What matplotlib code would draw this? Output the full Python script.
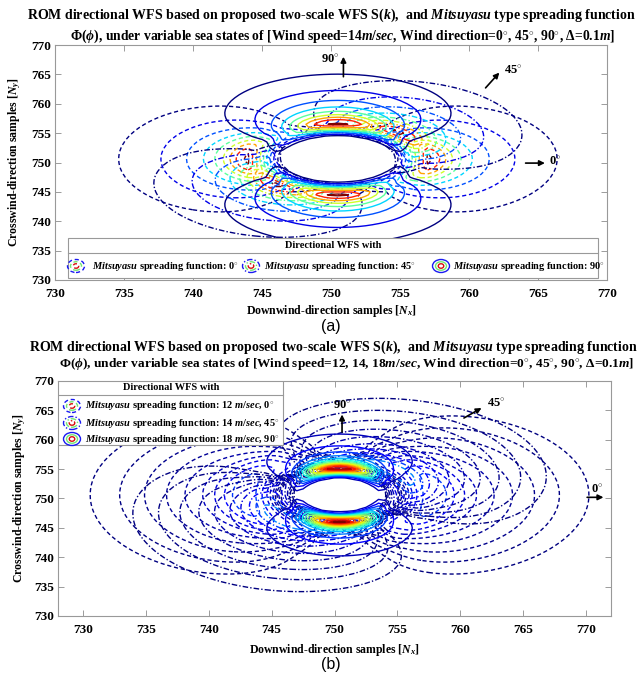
import math
import numpy as np
import matplotlib
matplotlib.use("Agg")
import matplotlib.pyplot as plt
from matplotlib.colors import Normalize
from matplotlib.patches import Rectangle, Ellipse

# ---------------- data ----------------
grid_min, grid_max, grid_step = 726.0, 774.0, 0.5
center_a = (750.5, 750.6)
center_b = (750.4, 750.6)
sigma_peak = 0.08

# panel (a): one wind speed, three directions
dirs_a = [0, 45, 90]                 # wind direction, degrees
speed_a = [14, 14, 14]               # m/sec
peak_radius_a = [6.6, 6.2, 6.0]      # spectral peak radius in samples
smax_a = [2.0, 2.0, 2.0]             # Mitsuyasu s_max
amp_a = [1.0, 1.0, 1.0]
gamma_a = 1.3                        # peak enhancement of the two-scale WFS
levels_a = [0.08, 0.16, 0.26, 0.37, 0.48, 0.60, 0.72, 0.84, 0.95]

# panel (b): three wind speeds / directions
dirs_b = [0, 45, 90]
speed_b = [12, 14, 18]
peak_radius_b = [7.5, 6.0, 4.5]
smax_b = [1.2, 1.2, 2.0]
amp_b = [0.25, 0.35, 1.0]
gamma_b = 2.0
levels_b_12 = [0.010, 0.015, 0.022, 0.032, 0.045, 0.065, 0.090, 0.13, 0.18]
levels_b_14 = [0.010, 0.015, 0.022, 0.032, 0.045, 0.065, 0.090, 0.13, 0.18, 0.25]
levels_b_18 = [0.06, 0.12, 0.18, 0.24, 0.30, 0.36, 0.42, 0.48, 0.54,
               0.60, 0.66, 0.72, 0.78, 0.84, 0.90, 0.95]
color_range_b = (0.01, 0.95)

styles = ['--', '-.', '-']
legend_a = ['0', '45', '90']
legend_b = ['12 $m/sec$, 0', '14 $m/sec$, 45', '18 $m/sec$, 90']

# ---------------- fonts ----------------
plt.rcParams['font.family'] = ['Liberation Serif', 'DejaVu Serif']
plt.rcParams['font.weight'] = 'bold'
plt.rcParams['mathtext.fontset'] = 'custom'
plt.rcParams['mathtext.rm'] = 'Liberation Serif:bold'
plt.rcParams['mathtext.it'] = 'Liberation Serif:italic:bold'
plt.rcParams['mathtext.bf'] = 'Liberation Serif:bold'
plt.rcParams['lines.dashed_pattern'] = [3.0, 2.0]
plt.rcParams['lines.dashdot_pattern'] = [4.0, 1.5, 1.0, 1.5]

lgam = np.frompyfunc(math.lgamma, 1, 1)


def norm_s(s):
    return np.exp((lgam(s + 1.0) - lgam(s + 0.5)).astype(float)) / (2 * np.sqrt(np.pi))


xs = np.arange(grid_min, grid_max + grid_step / 2, grid_step)
X, Y = np.meshgrid(xs, xs)


def wfs(center, theta_deg, rp, smax, amp, gamma):
    dx = X - center[0]
    dy = Y - center[1]
    r = np.hypot(dx, dy)
    r = np.where(r < 1e-6, 1e-6, r)
    phi = np.arctan2(dy, dx)
    q = r / rp
    base = q ** -3 * np.exp(0.75 * (1 - q ** -4))
    G = np.exp(-(np.sqrt(q) - 1) ** 2 / (2 * sigma_peak ** 2))
    S = base * np.where(q < 1, 1.0, gamma ** G / gamma)
    s = np.where(q < 1, smax * q ** 5, smax / q)
    D = norm_s(s) * np.abs(np.cos(phi - np.radians(theta_deg))) ** (2 * s)
    return amp * S * D / norm_s(np.array([smax]))[0]


fig = plt.figure(figsize=(6.38, 6.73), dpi=100)
W, H = 638.0, 673.0
axA = fig.add_axes([55 / W, 1 - 280 / H, 552 / W, 235 / H])
axB = fig.add_axes([58 / W, 1 - 616 / H, 553 / W, 235 / H])


def style_axes(ax, xlim):
    ax.set_xlim(*xlim)
    ax.set_ylim(730, 770)
    ax.set_xticks([730, 735, 740, 745, 750, 755, 760, 765, 770])
    ax.set_yticks([730, 735, 740, 745, 750, 755, 760, 765, 770])
    ax.tick_params(direction='in', length=4, width=0.6, color='0.55',
                   top=True, right=True, labelsize=9.5)
    ax.tick_params(axis='x', pad=6)
    ax.tick_params(axis='y', pad=3)
    for sp in ax.spines.values():
        sp.set_color('0.6')
        sp.set_linewidth(0.8)


nrmA = Normalize(levels_a[0], levels_a[-1])
for d, rp, sm, am, ls in zip(dirs_a, peak_radius_a, smax_a, amp_a, styles):
    axA.contour(X, Y, wfs(center_a, d, rp, sm, am, gamma_a), levels=levels_a,
                cmap='jet', norm=nrmA, linestyles=ls, linewidths=1.0)

nrmB = Normalize(*color_range_b)
for d, rp, sm, am, ls, lv in zip(dirs_b, peak_radius_b, smax_b, amp_b, styles,
                                 [levels_b_12, levels_b_14, levels_b_18]):
    axB.contour(X, Y, wfs(center_b, d, rp, sm, am, gamma_b), levels=lv,
                cmap='jet', norm=nrmB, linestyles=ls, linewidths=1.0)

style_axes(axA, (730, 770))
style_axes(axB, (728, 772))

arrow_kw = dict(arrowstyle='-|>', color='k', lw=1.2, mutation_scale=8,
                shrinkA=0, shrinkB=0)
deg = r'$^{\circ}$'
# panel (a) direction arrows
axA.annotate('', xy=(750.9, 768.0), xytext=(750.9, 764.6), arrowprops=arrow_kw)
axA.text(750.6, 767.6, '90' + deg, ha='right', va='center', fontsize=9)
axA.annotate('', xy=(762.2, 765.3), xytext=(761.2, 762.7), arrowprops=arrow_kw)
axA.text(762.5, 765.8, '45' + deg, ha='left', va='center', fontsize=9)
axA.annotate('', xy=(765.5, 749.9), xytext=(764.1, 749.9), arrowprops=arrow_kw)
axA.text(765.8, 750.2, '0' + deg, ha='left', va='center', fontsize=9)
# panel (b) direction arrows
axB.annotate('', xy=(750.6, 764.3), xytext=(750.6, 761.3), arrowprops=arrow_kw)
axB.text(750.6, 765.9, '90' + deg, ha='center', va='center', fontsize=9)
axB.annotate('', xy=(761.7, 765.4), xytext=(760.3, 763.7), arrowprops=arrow_kw)
axB.text(762.1, 766.2, '45' + deg, ha='left', va='center', fontsize=9)
axB.annotate('', xy=(771.4, 750.2), xytext=(770.1, 750.2), arrowprops=arrow_kw)
axB.text(770.9, 751.7, '0' + deg, ha='center', va='center', fontsize=9)


def px2ax(ax_box, x, y):
    l, b, w, h = ax_box
    return (x - l) / w, (b - y) / h


def icon(ax, box, cx, cy, ls):
    l, b, w, h = box
    for (ew, eh, col) in [(17, 13, (0.1, 0.1, 0.95)), (11, 8.5, (0.45, 0.9, 0.45)),
                          (5.5, 4.5, (0.85, 0.05, 0.05))]:
        ax.add_patch(Ellipse(px2ax(box, cx, cy), ew / w, eh / h, fill=False,
                             ec=col, lw=1.0, ls=ls, transform=ax.transAxes,
                             zorder=11, clip_on=False))


# legend (a)
boxA = (55, 280, 552, 235)
x0, y0 = px2ax(boxA, 68, 278)
x1, y1 = px2ax(boxA, 598, 238)
axA.add_patch(Rectangle((x0, y0), x1 - x0, y1 - y0, transform=axA.transAxes,
                        fc='white', ec='0.6', lw=0.8, zorder=10))
sx, sy = px2ax(boxA, 68, 253)
axA.plot([x0, x1], [sy, sy], color='0.6', lw=0.8, transform=axA.transAxes, zorder=11)
tx, ty = px2ax(boxA, 333, 245.5)
axA.text(tx, ty, 'Directional WFS with', transform=axA.transAxes, ha='center',
         va='center', fontsize=7.5, zorder=12)
for (ix, txx, lab, ls) in zip([76, 251, 441], [92, 264, 453], legend_a, styles):
    icon(axA, boxA, ix, 266, ls)
    px, py = px2ax(boxA, txx, 266)
    axA.text(px, py, '$Mitsuyasu$ spreading function: ' + lab + deg,
             transform=axA.transAxes, ha='left', va='center', fontsize=7.5, zorder=12)

# legend (b)
boxB = (58, 616, 553, 235)
x0, y0 = px2ax(boxB, 58, 445)
x1, y1 = px2ax(boxB, 283, 381)
axB.add_patch(Rectangle((x0, y0), x1 - x0, y1 - y0, transform=axB.transAxes,
                        fc='white', ec='0.6', lw=0.8, zorder=10))
sx, sy = px2ax(boxB, 58, 395)
axB.plot([x0, x1], [sy, sy], color='0.6', lw=0.8, transform=axB.transAxes, zorder=11)
tx, ty = px2ax(boxB, 171, 388)
axB.text(tx, ty, 'Directional WFS with', transform=axB.transAxes, ha='center',
         va='center', fontsize=7.5, zorder=12)
for (iy, lab, ls) in zip([406, 423, 439], legend_b, styles):
    icon(axB, boxB, 72, iy, ls)
    px, py = px2ax(boxB, 85, iy)
    axB.text(px, py, '$Mitsuyasu$ spreading function: ' + lab + deg,
             transform=axB.transAxes, ha='left', va='center', fontsize=7.5, zorder=12)

# titles
t1 = r'ROM directional WFS based on proposed two-scale WFS S($k$),  and $Mitsuyasu$ type spreading function'
t2a = (r'$\Phi(\phi)$, under variable sea states of [Wind speed=14$m/sec$, Wind direction=0'
       + deg + ', 45' + deg + ', 90' + deg + r', Δ=0.1$m$]')
t2b = (r'$\Phi(\phi)$, under variable sea states of [Wind speed=12, 14, 18$m/sec$, Wind direction=0'
       + deg + ', 45' + deg + ', 90' + deg + r', Δ=0.1$m$]')
fig.text(331 / W, 1 - 15 / H, t1, ha='center', va='center', fontsize=10)
fig.text(343 / W, 1 - 36 / H, t2a, ha='center', va='center', fontsize=9.8)
fig.text(333 / W, 1 - 347 / H, t1, ha='center', va='center', fontsize=10)
fig.text(634 / W, 1 - 365 / H, t2b, ha='right', va='center', fontsize=9.6)

# axis labels
xl = r'Downwind-direction samples [$N_x$]'
yl = r'Crosswind-direction samples [$N_y$]'
fig.text(331 / W, 1 - 311 / H, xl, ha='center', va='center', fontsize=8.5)
fig.text(334 / W, 1 - 650 / H, xl, ha='center', va='center', fontsize=8.5)
fig.text(15 / W, 1 - 162 / H, yl, ha='center', va='center', rotation=90, fontsize=8.5)
fig.text(20 / W, 1 - 498 / H, yl, ha='center', va='center', rotation=90, fontsize=8.5)

# panel tags
fig.text(331 / W, 1 - 326 / H, '(a)', ha='center', va='center', fontsize=11.5,
         family=['Liberation Sans', 'DejaVu Sans'], weight='normal')
fig.text(331 / W, 1 - 665 / H, '(b)', ha='center', va='center', fontsize=11.5,
         family=['Liberation Sans', 'DejaVu Sans'], weight='normal')

fig.savefig('out.png', dpi=100)
